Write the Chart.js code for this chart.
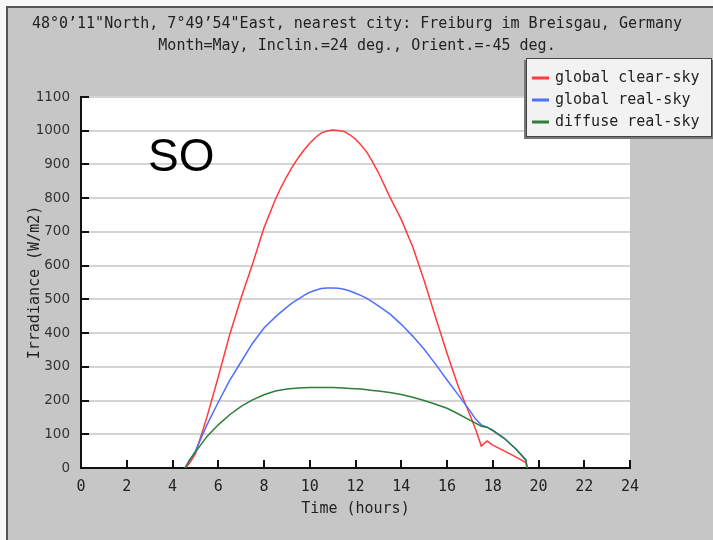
<!DOCTYPE html>
<html>
<head>
<meta charset="utf-8">
<script src="https://cdn.jsdelivr.net/npm/chart.js@4.4.1/dist/chart.umd.min.js"></script>
<style>
  html, body { margin: 0; padding: 0; background: #f7f7f7; overflow: hidden; }
  #frame { position: absolute; left: 6px; top: 6px; width: 720px; height: 550px; background: #c6c6c6; border: 2px solid #555; }
  #wrap { position: absolute; left: 0; top: 0; width: 713px; height: 540px; }
</style>
</head>
<body>
<div id="frame"></div>
<div id="wrap"><canvas id="chart" width="713" height="540"></canvas></div>
<script>
// Daily irradiance profile
const hours    = [4.55, 4.75, 5, 5.5, 6, 6.5, 7, 7.5, 8, 8.5, 8.75, 9, 9.25, 9.5, 9.75, 10, 10.25, 10.5, 10.75, 11, 11.25, 11.5, 11.75, 12, 12.25, 12.5, 12.75, 13, 13.5, 14, 14.5, 15, 15.5, 16, 16.5, 17, 17.25, 17.5, 17.75, 18, 18.5, 19, 19.45, 19.5];
const clearSky = [0, 15, 42, 150, 270, 395, 505, 605, 712, 797, 833, 865, 894, 920, 943, 963, 980, 993, 999, 1002, 1001, 998, 988, 975, 957, 936, 907, 876, 804, 737, 656, 556, 447, 340, 240, 158, 115, 65, 80, 68, 51, 33, 16, 0];
const realSky  = [0, 22, 50, 127, 195, 260, 315, 370, 415, 448, 463, 477, 490, 501, 512, 521, 527, 532, 534, 534, 533, 530, 525, 518, 511, 503, 492, 481, 457, 426, 391, 352, 308, 261, 216, 170, 145, 128, 121, 112, 88, 57, 24, 0];
const diffuse  = [0, 25, 47, 93, 128, 158, 183, 202, 217, 228, 231, 234, 236, 237, 238, 239, 239, 239, 239, 239, 238, 237, 236, 235, 234, 232, 230, 228, 224, 218, 210, 200, 189, 177, 160, 142, 133, 124, 121, 111, 88, 57, 24, 0];

const seriesNames = ['global clear-sky', 'global real-sky', 'diffuse real-sky'];
const seriesColors = ['#ff3b3b', '#4f6fff', '#2e7d3a'];
const titleLines = [
  '48°0’11"North, 7°49’54"East, nearest city: Freiburg im Breisgau, Germany',
  'Month=May, Inclin.=24 deg., Orient.=-45 deg.'
];
const cornerLabel = 'SO';

const mono = '"DejaVu Sans Mono", "Liberation Mono", monospace';

function toPoints(values) {
  return hours.map((h, i) => ({ x: h, y: values[i] }));
}

// white plot area, inward ticks, title, boxed legend and the "SO" mark
const gnuplotLook = {
  id: 'gnuplotLook',
  beforeDraw(chart) {
    const { ctx, chartArea: a } = chart;
    ctx.save();
    ctx.fillStyle = '#ffffff';
    ctx.fillRect(a.left, a.top, a.right - a.left, a.bottom - a.top);
    ctx.restore();
  },
  afterDraw(chart) {
    const { ctx, chartArea: a, scales } = chart;
    ctx.save();

    ctx.strokeStyle = '#111';
    ctx.lineWidth = 2;
    ctx.beginPath();
    scales.x.ticks.forEach(t => {
      const px = Math.round(scales.x.getPixelForValue(t.value));
      ctx.moveTo(px, a.bottom);
      ctx.lineTo(px, a.bottom - 8);
    });
    scales.y.ticks.forEach(t => {
      const py = Math.round(scales.y.getPixelForValue(t.value));
      ctx.moveTo(a.left, py);
      ctx.lineTo(a.left + 8, py);
    });
    ctx.stroke();

    ctx.fillStyle = '#222';
    ctx.font = '15px ' + mono;
    ctx.textAlign = 'center';
    ctx.textBaseline = 'middle';
    ctx.fillText(titleLines[0], 357, 24);
    ctx.fillText(titleLines[1], 357, 46);

    // legend box
    ctx.fillStyle = '#777';
    ctx.fillRect(524, 60, 190, 79);
    ctx.fillStyle = '#f2f2f2';
    ctx.fillRect(526, 58, 186, 79);
    ctx.strokeStyle = '#444';
    ctx.lineWidth = 1;
    ctx.strokeRect(526.5, 58.5, 185, 78);
    ctx.textAlign = 'left';
    chart.data.datasets.forEach((ds, i) => {
      const y = 78 + i * 22;
      ctx.strokeStyle = ds.borderColor;
      ctx.lineWidth = 3;
      ctx.beginPath();
      ctx.moveTo(532, y);
      ctx.lineTo(549, y);
      ctx.stroke();
      ctx.fillStyle = '#222';
      ctx.fillText(ds.label, 555, y);
    });

    ctx.fillStyle = '#000';
    ctx.font = '46px "Liberation Sans", Arial, sans-serif';
    ctx.textAlign = 'left';
    ctx.textBaseline = 'alphabetic';
    ctx.fillText(cornerLabel, 148, 171);

    ctx.restore();
  }
};

const ctx = document.getElementById('chart').getContext('2d');
const chart = new Chart(ctx, {
  type: 'line',
  data: {
    datasets: [
      { label: seriesNames[0], data: toPoints(clearSky), borderColor: seriesColors[0], order: 3 },
      { label: seriesNames[1], data: toPoints(realSky), borderColor: seriesColors[1], order: 2 },
      { label: seriesNames[2], data: toPoints(diffuse), borderColor: seriesColors[2], order: 1 }
    ]
  },
  options: {
    responsive: false,
    animation: false,
    layout: { padding: { left: 0, top: 97, right: 83, bottom: 0 } },
    elements: {
      line: { borderWidth: 1.5, tension: 0, fill: false },
      point: { radius: 0 }
    },
    scales: {
      x: {
        type: 'linear',
        min: 0,
        max: 24,
        ticks: { stepSize: 2, padding: 2, color: '#222', font: { family: mono, size: 15 } },
        grid: { display: false },
        border: { color: '#111', width: 2 },
        title: {
          display: true,
          text: 'Time (hours)',
          color: '#222',
          font: { family: mono, size: 15 },
          padding: { top: 0, bottom: 22 }
        },
        afterFit: s => { s.height = 72; }
      },
      y: {
        min: 0,
        max: 1100,
        ticks: {
          stepSize: 100,
          padding: 11,
          color: '#333',
          font: { family: '"DejaVu Sans", sans-serif', size: 13.5 },
          callback: v => String(v)
        },
        grid: { color: '#d4d4d4', lineWidth: 2, drawTicks: false },
        border: { color: '#111', width: 2 },
        title: {
          display: true,
          text: 'Irradiance (W/m2)',
          color: '#222',
          font: { family: mono, size: 15 },
          padding: { top: 26, bottom: 0 }
        },
        afterFit: s => { s.width = 81; }
      }
    },
    plugins: {
      legend: { display: false },
      title: { display: false },
      tooltip: { enabled: false }
    }
  },
  plugins: [gnuplotLook]
});
</script>
</body>
</html>
